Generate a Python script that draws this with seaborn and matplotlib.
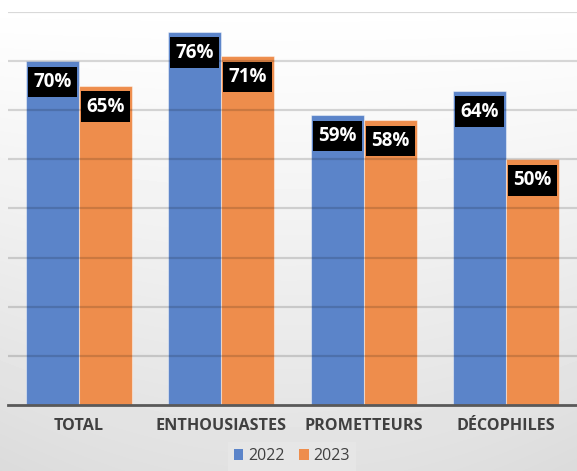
import numpy as np
import pandas as pd
import matplotlib
matplotlib.use("Agg")
import matplotlib.pyplot as plt
from matplotlib.patches import Patch
import seaborn as sns

# --- data -------------------------------------------------------------
categories = ["TOTAL", "ENTHOUSIASTES", "PROMETTEURS", "DÉCOPHILES"]
years = ["2022", "2023"]
values_2022 = [70, 76, 59, 64]
values_2023 = [65, 71, 58, 50]
colors = ["#5B84C9", "#EE8D4C"]

df = pd.DataFrame({
    "segment": categories * 2,
    "year": [years[0]] * len(categories) + [years[1]] * len(categories),
    "share": values_2022 + values_2023,
})

sns.set_theme(style="white")
plt.rcParams["font.family"] = ["Open Sans", "DejaVu Sans"]

W, H = 577, 471
fig = plt.figure(figsize=(W / 100, H / 100), dpi=100)

# soft white-to-grey background
bg = fig.add_axes([0, 0, 1, 1], zorder=-10)
yy, xx = np.mgrid[0:H, 0:W]
fy = yy / H
fx = np.abs(xx - W / 2) / (W / 2)
shade = 255 - 30 * fy ** 1.1 - 6 * fx ** 2 * fy
bg.imshow(shade, cmap="gray", vmin=0, vmax=255, aspect="auto",
          extent=(0, 1, 0, 1), origin="upper")
bg.set_axis_off()

ax = fig.add_axes([8 / W, 66 / H, 569 / W, 393 / H])
ax.set_facecolor("none")

sns.barplot(data=df, x="segment", y="share", hue="year", palette=colors,
            saturation=1, width=0.745, edgecolor=(1, 1, 1, 0.45),
            linewidth=0.8, ax=ax, legend=False)

ax.set_xlim(-0.5, len(categories) - 0.5)
ax.set_ylim(0, 80)
ax.set_yticks(np.arange(10, 81, 10))
ax.set_axisbelow(False)
ax.yaxis.grid(True, color="black", alpha=0.15, linewidth=1.6)
ax.xaxis.grid(False)
ax.tick_params(axis="y", left=False, labelleft=False)
ax.tick_params(axis="x", bottom=False, pad=3)
for lbl in ax.get_xticklabels():
    lbl.set_fontsize(11.6)
    lbl.set_fontweight("bold")
    lbl.set_color("#404040")
ax.set_xlabel("")
ax.set_ylabel("")
for side in ("left", "right", "top"):
    ax.spines[side].set_visible(False)
ax.spines["bottom"].set_color("#595959")
ax.spines["bottom"].set_linewidth(2)

# value labels in black boxes just under each bar top
for container, vals in zip(ax.containers, [values_2022, values_2023]):
    for bar, v in zip(container, vals):
        ax.annotate(f"{v}%", xy=(bar.get_x() + bar.get_width() / 2, v),
                    xytext=(0, -21), textcoords="offset pixels",
                    ha="center", va="center", color="white",
                    fontsize=13.5, fontweight="bold",
                    bbox=dict(boxstyle="square,pad=0.28", fc="black", ec="none"),
                    zorder=6)

handles = [Patch(facecolor=c, edgecolor="none") for c in colors]
fig.legend(handles, years, loc="lower center", bbox_to_anchor=(0.506, -0.016),
           ncol=2, frameon=True, facecolor="#e6e6e6", edgecolor="none",
           fancybox=False, framealpha=1, handlelength=0.6, handleheight=0.6,
           handletextpad=0.3, columnspacing=0.9, borderpad=0.4,
           prop={"size": 11.5}, labelcolor="#404040")

fig.savefig("out.png", dpi=100)
